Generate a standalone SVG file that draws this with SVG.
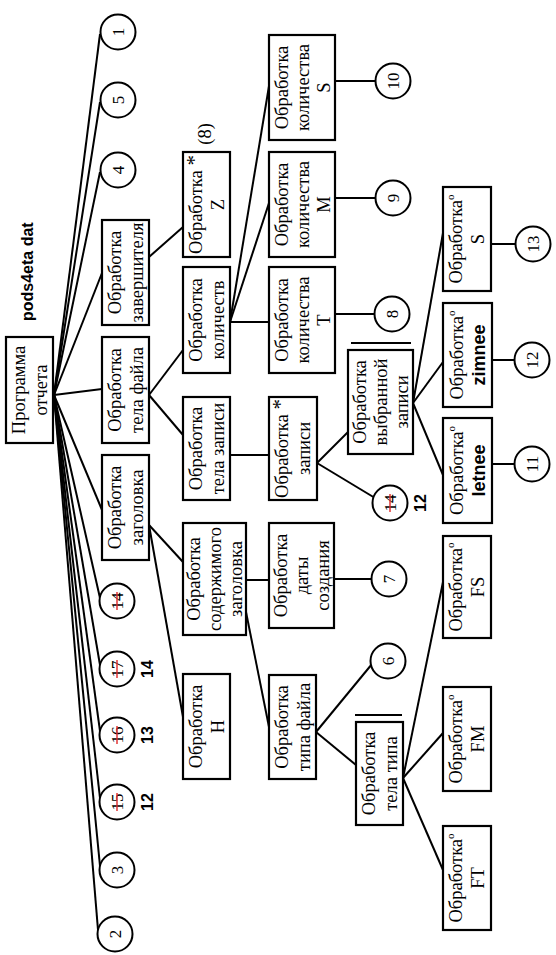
<svg xmlns="http://www.w3.org/2000/svg" width="556" height="955" viewBox="0 0 556 955">
<style>
.bg{fill:#fff}
.box{fill:#fff;stroke:#000;stroke-width:2.2}
.circ{fill:#fff;stroke:#000;stroke-width:2}
.conn line{stroke:#000;stroke-width:2;fill:none}
.bar{stroke:#000;stroke-width:2.2}
.t{font-family:"Liberation Serif","Times New Roman",serif;font-size:18.5px;text-anchor:middle;fill:#000}
.n{font-family:"Liberation Serif","Times New Roman",serif;font-size:17px;text-anchor:middle;fill:#000}
.b{font-family:"Liberation Sans",Arial,sans-serif;font-weight:bold;font-size:18px;text-anchor:middle;fill:#000}
.lbl{font-family:"Liberation Sans",Arial,sans-serif;font-weight:bold;font-size:16px;text-anchor:middle;fill:#000}
.strike{stroke:#e02828;stroke-width:1.4}
</style>
<rect class="bg" x="0" y="0" width="556" height="955"/>
<text class="lbl" transform="translate(33,321) rotate(-90)" style="text-anchor:start">pods4eta dat</text>

<g id="connectors" class="conn">
<line x1="54" y1="395" x2="100" y2="34"/>
<line x1="54" y1="395" x2="100" y2="102"/>
<line x1="54" y1="395" x2="100" y2="172"/>
<line x1="54" y1="395" x2="102" y2="273"/>
<line x1="54" y1="395" x2="102" y2="389"/>
<line x1="54" y1="395" x2="102" y2="510"/>
<line x1="54" y1="395" x2="100" y2="598"/>
<line x1="54" y1="395" x2="100" y2="665"/>
<line x1="54" y1="395" x2="100" y2="731"/>
<line x1="54" y1="395" x2="100" y2="798"/>
<line x1="54" y1="395" x2="100" y2="866"/>
<line x1="54" y1="395" x2="98" y2="930"/>
<line x1="149" y1="257" x2="183" y2="227"/>
<line x1="149" y1="395" x2="183" y2="350"/>
<line x1="149" y1="395" x2="183" y2="435"/>
<line x1="149" y1="525" x2="183" y2="562"/>
<line x1="149" y1="525" x2="183" y2="717"/>
<line x1="230" y1="322" x2="269" y2="86"/>
<line x1="230" y1="322" x2="269" y2="203"/>
<line x1="230" y1="322" x2="269" y2="322"/>
<line x1="230" y1="455" x2="269" y2="455"/>
<line x1="246" y1="580" x2="269" y2="580"/>
<line x1="246" y1="612" x2="269" y2="727"/>
<line x1="335" y1="81" x2="375" y2="81"/>
<line x1="335" y1="198" x2="375" y2="198"/>
<line x1="335" y1="314" x2="374" y2="314"/>
<line x1="317" y1="463" x2="348" y2="432"/>
<line x1="317" y1="463" x2="375" y2="498"/>
<line x1="334" y1="579" x2="371" y2="579"/>
<line x1="316" y1="732" x2="372" y2="664"/>
<line x1="316" y1="732" x2="356" y2="765"/>
<line x1="413" y1="403" x2="443" y2="233"/>
<line x1="413" y1="403" x2="443" y2="362"/>
<line x1="413" y1="403" x2="443" y2="475"/>
<line x1="403" y1="778" x2="443" y2="582"/>
<line x1="403" y1="778" x2="443" y2="733"/>
<line x1="403" y1="778" x2="443" y2="870"/>
<line x1="491" y1="244" x2="515" y2="244"/>
<line x1="492" y1="360" x2="514" y2="360"/>
<line x1="492" y1="464" x2="514" y2="464"/>
</g>

<g id="root"><rect class="box" x="6" y="337" width="47" height="106"/>
<g transform="translate(29.5,390) rotate(-90)"><text class="t" y="-5">Программа</text><text class="t" y="17">отчета</text></g></g>

<g id="zagolovka"><rect class="box" x="102" y="455" width="47" height="105"/>
<g transform="translate(125.5,507.5) rotate(-90)"><text class="t" y="-5">Обработка</text><text class="t" y="17">заголовка</text></g></g>

<g id="tela-faila"><rect class="box" x="102" y="337" width="47" height="106"/>
<g transform="translate(125.5,390) rotate(-90)"><text class="t" y="-5">Обработка</text><text class="t" y="17">тела файла</text></g></g>

<g id="zavershitelya"><rect class="box" x="102" y="220" width="47" height="105"/>
<g transform="translate(125.5,272.5) rotate(-90)"><text class="t" y="-5">Обработка</text><text class="t" y="17">завершителя</text></g></g>

<g id="soderzhimogo"><rect class="box" x="183" y="523" width="63" height="112"/>
<g transform="translate(214.5,579) rotate(-90)"><text class="t" y="-14.5">Обработка</text><text class="t" y="6.5">содержимого</text><text class="t" y="27.5">заголовка</text></g></g>

<g id="tela-zapisi"><rect class="box" x="183" y="397" width="47" height="103"/>
<g transform="translate(206.5,448.5) rotate(-90)"><text class="t" y="-5">Обработка</text><text class="t" y="17">тела записи</text></g></g>

<g id="kolichestv"><rect class="box" x="183" y="267" width="47" height="106"/>
<g transform="translate(206.5,320) rotate(-90)"><text class="t" y="-5">Обработка</text><text class="t" y="17">количеств</text></g></g>

<g id="z"><rect class="box" x="183" y="152" width="47" height="105"/>
<g transform="translate(206.5,204.5) rotate(-90)"><text class="t" y="-5">Обработка <tspan font-size="21" dy="-1">*</tspan></text><text class="t" y="17">Z</text></g>
<text class="t" transform="translate(211,134) rotate(-90)">(8)</text></g>

<g id="h"><rect class="box" x="183" y="674" width="47" height="105"/>
<g transform="translate(206.5,726.5) rotate(-90)"><text class="t" y="-5">Обработка</text><text class="t" y="17">H</text></g></g>

<g id="kol-s"><rect class="box" x="269" y="35" width="66" height="105"/>
<g transform="translate(302,87.5) rotate(-90)"><text class="t" y="-14.5">Обработка</text><text class="t" y="6.5">количества</text><text class="t" y="27.5">S</text></g></g>

<g id="kol-m"><rect class="box" x="269" y="152" width="66" height="105"/>
<g transform="translate(302,204.5) rotate(-90)"><text class="t" y="-14.5">Обработка</text><text class="t" y="6.5">количества</text><text class="t" y="27.5">M</text></g></g>

<g id="kol-t"><rect class="box" x="269" y="267" width="66" height="106"/>
<g transform="translate(302,320) rotate(-90)"><text class="t" y="-14.5">Обработка</text><text class="t" y="6.5">количества</text><text class="t" y="27.5">T</text></g></g>

<g id="zapisi"><rect class="box" x="269" y="397" width="48" height="103"/>
<g transform="translate(293,448.5) rotate(-90)"><text class="t" y="-5">Обработка <tspan font-size="21" dy="-1">*</tspan></text><text class="t" y="17">записи</text></g></g>

<g id="daty"><rect class="box" x="269" y="523" width="65" height="105"/>
<g transform="translate(301.5,575.5) rotate(-90)"><text class="t" y="-14.5">Обработка</text><text class="t" y="6.5">даты</text><text class="t" y="27.5">создания</text></g></g>

<g id="tipa-faila"><rect class="box" x="269" y="675" width="47" height="104"/>
<g transform="translate(292.5,727) rotate(-90)"><text class="t" y="-5">Обработка</text><text class="t" y="17">типа файла</text></g></g>

<g id="vybrannoi"><rect class="box" x="348" y="350" width="65" height="104"/>
<line class="bar" x1="351" y1="343" x2="411" y2="343"/>
<g transform="translate(380.5,402) rotate(-90)"><text class="t" y="-14.5">Обработка</text><text class="t" y="6.5">выбранной</text><text class="t" y="27.5">записи</text></g></g>

<g id="tela-tipa"><rect class="box" x="356" y="722" width="47" height="103"/>
<line class="bar" x1="355" y1="715" x2="402" y2="715"/>
<g transform="translate(379.5,773.5) rotate(-90)"><text class="t" y="-5">Обработка</text><text class="t" y="17">тела типа</text></g></g>

<g id="s"><rect class="box" x="443" y="187" width="48" height="104"/>
<g transform="translate(467,239) rotate(-90)"><text class="t" y="-5">Обработка<tspan font-size="11" dy="-8">o</tspan></text><text class="t" y="17">S</text></g></g>

<g id="zimnee"><rect class="box" x="443" y="303" width="49" height="104"/>
<g transform="translate(467.5,355) rotate(-90)"><text class="t" y="-5">Обработка<tspan font-size="11" dy="-8">o</tspan></text><text class="b" y="17">zimnee</text></g></g>

<g id="letnee"><rect class="box" x="443" y="418" width="49" height="105"/>
<g transform="translate(467.5,470.5) rotate(-90)"><text class="t" y="-5">Обработка<tspan font-size="11" dy="-8">o</tspan></text><text class="b" y="17">letnee</text></g></g>

<g id="fs"><rect class="box" x="443" y="536" width="48" height="102"/>
<g transform="translate(467,587) rotate(-90)"><text class="t" y="-5">Обработка<tspan font-size="11" dy="-8">o</tspan></text><text class="t" y="17">FS</text></g></g>

<g id="fm"><rect class="box" x="443" y="687" width="48" height="104"/>
<g transform="translate(467,739) rotate(-90)"><text class="t" y="-5">Обработка<tspan font-size="11" dy="-8">o</tspan></text><text class="t" y="17">FM</text></g></g>

<g id="ft"><rect class="box" x="443" y="826" width="48" height="104"/>
<g transform="translate(467,878) rotate(-90)"><text class="t" y="-5">Обработка<tspan font-size="11" dy="-8">o</tspan></text><text class="t" y="17">FT</text></g></g>

<g id="c1"><circle class="circ" cx="118" cy="32" r="17.5"/><text class="n" transform="translate(124,32) rotate(-90)">1</text></g>
<g id="c5"><circle class="circ" cx="118" cy="100" r="17.5"/><text class="n" transform="translate(124,100) rotate(-90)">5</text></g>
<g id="c4"><circle class="circ" cx="118" cy="170" r="17.5"/><text class="n" transform="translate(124,170) rotate(-90)">4</text></g>
<g id="c14a"><circle class="circ" cx="117" cy="601" r="17.5"/><text class="n" transform="translate(123,601) rotate(-90)">14</text><line class="strike" x1="117" y1="592" x2="117" y2="610"/></g>
<g id="c17"><circle class="circ" cx="117" cy="669" r="17.5"/><text class="n" transform="translate(123,669) rotate(-90)">17</text><line class="strike" x1="117" y1="660" x2="117" y2="678"/>
<text class="lbl" transform="translate(153,669) rotate(-90)">14</text></g>
<g id="c16"><circle class="circ" cx="117" cy="735" r="17.5"/><text class="n" transform="translate(123,735) rotate(-90)">16</text><line class="strike" x1="117" y1="726" x2="117" y2="744"/>
<text class="lbl" transform="translate(153,735) rotate(-90)">13</text></g>
<g id="c15"><circle class="circ" cx="117" cy="802" r="17.5"/><text class="n" transform="translate(123,802) rotate(-90)">15</text><line class="strike" x1="117" y1="793" x2="117" y2="811"/>
<text class="lbl" transform="translate(153,802) rotate(-90)">12</text></g>
<g id="c3"><circle class="circ" cx="117" cy="870" r="17.5"/><text class="n" transform="translate(123,870) rotate(-90)">3</text></g>
<g id="c2"><circle class="circ" cx="115" cy="934" r="17.5"/><text class="n" transform="translate(121,934) rotate(-90)">2</text></g>
<g id="c10"><circle class="circ" cx="393" cy="81" r="17.5"/><text class="n" transform="translate(399,81) rotate(-90)">10</text></g>
<g id="c9"><circle class="circ" cx="393" cy="198" r="17.5"/><text class="n" transform="translate(399,198) rotate(-90)">9</text></g>
<g id="c8"><circle class="circ" cx="392" cy="314" r="17.5"/><text class="n" transform="translate(398,314) rotate(-90)">8</text></g>
<g id="c14b"><circle class="circ" cx="390" cy="503" r="17.5"/><text class="n" transform="translate(396,503) rotate(-90)">14</text><line class="strike" x1="390" y1="494" x2="390" y2="512"/>
<text class="lbl" transform="translate(426,503) rotate(-90)">12</text></g>
<g id="c7"><circle class="circ" cx="389" cy="579" r="17.5"/><text class="n" transform="translate(395,579) rotate(-90)">7</text></g>
<g id="c6"><circle class="circ" cx="388" cy="661" r="17.5"/><text class="n" transform="translate(394,661) rotate(-90)">6</text></g>
<g id="c13"><circle class="circ" cx="533" cy="244" r="17.5"/><text class="n" transform="translate(539,244) rotate(-90)">13</text></g>
<g id="c12"><circle class="circ" cx="532" cy="360" r="17.5"/><text class="n" transform="translate(538,360) rotate(-90)">12</text></g>
<g id="c11"><circle class="circ" cx="532" cy="464" r="17.5"/><text class="n" transform="translate(538,464) rotate(-90)">11</text></g>
</svg>
